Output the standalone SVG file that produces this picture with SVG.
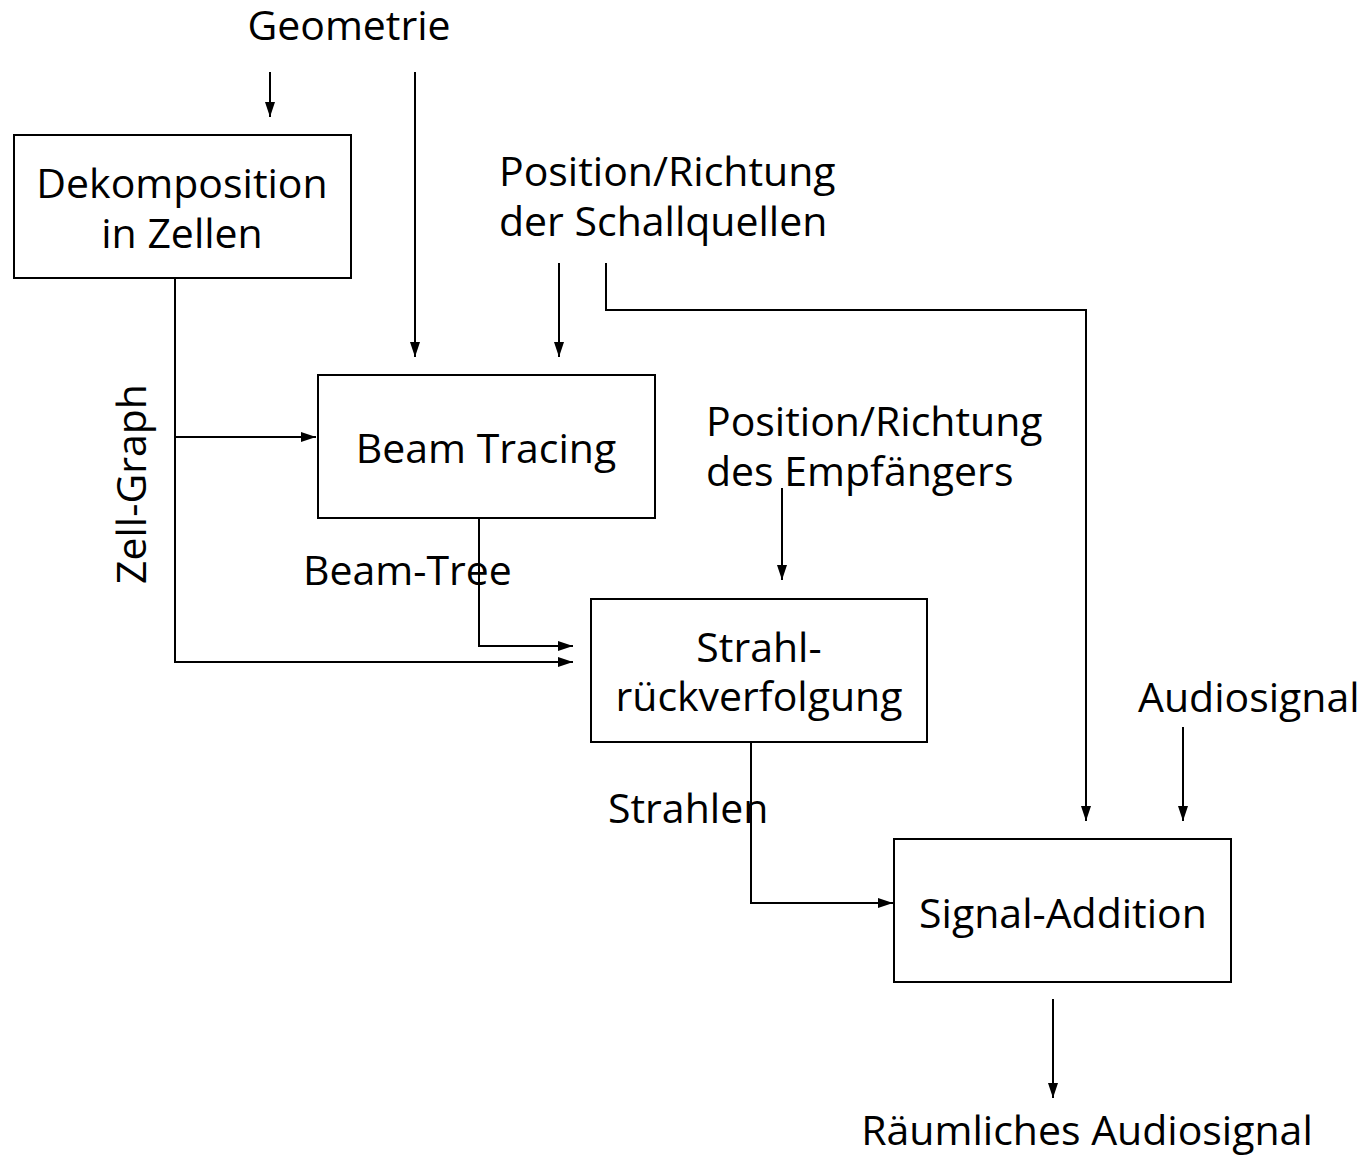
<svg xmlns="http://www.w3.org/2000/svg" width="1368" height="1155" viewBox="0 0 1368 1155">
  <style>
    .box { fill: #fff; stroke: #000; stroke-width: 2; }
    .wire { fill: none; stroke: #000; stroke-width: 2; }
    text { font-family: "Open Sans", "DejaVu Sans", sans-serif; font-size: 41px; fill: #000; }
    .c { text-anchor: middle; }
  </style>
  <defs>
    <marker id="arrow" viewBox="0 0 15 10" refX="15" refY="5" markerWidth="15" markerHeight="10" markerUnits="userSpaceOnUse" orient="auto">
      <path d="M0,0 L15,5 L0,10 Z" fill="#000"/>
    </marker>
  </defs>

  <!-- connectors -->
  <g id="connectors">
    <path class="wire" d="M270,72 V117" marker-end="url(#arrow)"/>
    <path class="wire" d="M415,72 V357" marker-end="url(#arrow)"/>
    <path class="wire" d="M559,263 V357" marker-end="url(#arrow)"/>
    <path class="wire" d="M606,263 V310 H1086 V821" marker-end="url(#arrow)"/>
    <path class="wire" d="M175,278 V662 H573" marker-end="url(#arrow)"/>
    <path class="wire" d="M175,437 H316" marker-end="url(#arrow)"/>
    <path class="wire" d="M479,518 V646 H573" marker-end="url(#arrow)"/>
    <path class="wire" d="M782,488 V580" marker-end="url(#arrow)"/>
    <path class="wire" d="M751,742 V903 H893" marker-end="url(#arrow)"/>
    <path class="wire" d="M1183,727 V821" marker-end="url(#arrow)"/>
    <path class="wire" d="M1053,999 V1098" marker-end="url(#arrow)"/>
  </g>

  <!-- free labels -->
  <g id="labels">
    <text x="349" y="40" class="c">Geometrie</text>
    <text x="499" y="186">Position/Richtung</text>
    <text x="499" y="236">der Schallquellen</text>
    <text x="706" y="436">Position/Richtung</text>
    <text x="706" y="486">des Empfängers</text>
    <text x="303" y="585">Beam-Tree</text>
    <text x="1138" y="712">Audiosignal</text>
    <text x="608" y="823">Strahlen</text>
    <text x="1087" y="1145" class="c">Räumliches Audiosignal</text>
    <text transform="translate(146,484) rotate(-90)" class="c">Zell-Graph</text>
  </g>

  <g id="node-dekomposition">
    <rect class="box" x="14" y="135" width="337" height="143"/>
    <text x="182" y="198" class="c">Dekomposition</text>
    <text x="182" y="248" class="c">in Zellen</text>
  </g>

  <g id="node-beam-tracing">
    <rect class="box" x="318" y="375" width="337" height="143"/>
    <text x="486" y="463" class="c">Beam Tracing</text>
  </g>

  <g id="node-strahlrueckverfolgung">
    <rect class="box" x="591" y="599" width="336" height="143"/>
    <text x="759" y="662" class="c">Strahl-</text>
    <text x="759" y="711" class="c">rückverfolgung</text>
  </g>

  <g id="node-signal-addition">
    <rect class="box" x="894" y="839" width="337" height="143"/>
    <text x="1063" y="928" class="c">Signal-Addition</text>
  </g>
</svg>
